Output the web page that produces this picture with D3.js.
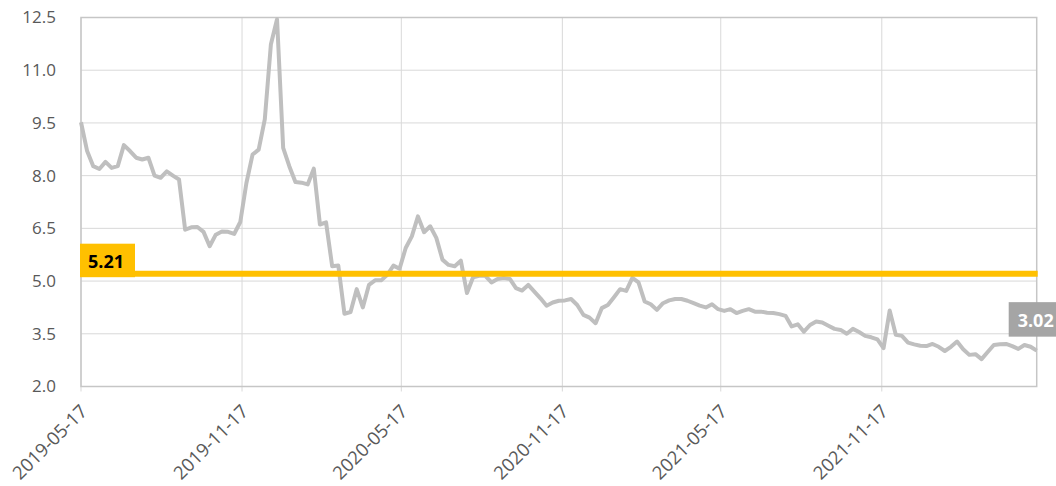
<!DOCTYPE html>
<html>
<head>
<meta charset="utf-8">
<script src="https://cdn.jsdelivr.net/npm/d3@7"></script>
<style>
  body { margin: 0; background: #fff; }
  svg { display: block; }
</style>
</head>
<body>
<svg id="chart" width="1056" height="486"></svg>
<script>
// weekly readings, first week 2019-05-17
const startDate = "2019-05-17";
const values = [
  9.52, 8.70, 8.27, 8.19, 8.39, 8.22, 8.27, 8.87, 8.70, 8.51, 8.46, 8.51, 8.00, 7.94,
  8.12, 8.00, 7.89, 6.46, 6.53, 6.54, 6.40, 5.99, 6.32, 6.41, 6.40, 6.34, 6.68,
  7.79, 8.60, 8.74, 9.60, 11.74, 12.45, 8.79, 8.27, 7.82, 7.80, 7.75, 8.20, 6.61,
  6.67, 5.42, 5.44, 4.07, 4.12, 4.77, 4.25, 4.89, 5.02, 5.02, 5.18, 5.44, 5.35,
  5.94, 6.27, 6.84, 6.39, 6.56, 6.23, 5.61, 5.46, 5.42, 5.58, 4.66, 5.11, 5.15,
  5.15, 4.96, 5.06, 5.09, 5.06, 4.80, 4.73, 4.89, 4.70, 4.51, 4.30, 4.39, 4.44,
  4.45, 4.49, 4.32, 4.04, 3.96, 3.80, 4.23, 4.32, 4.54, 4.77, 4.72, 5.09, 4.96,
  4.42, 4.34, 4.18, 4.37, 4.45, 4.49, 4.49, 4.44, 4.37, 4.30, 4.25, 4.34, 4.20,
  4.15, 4.20, 4.09, 4.15, 4.20, 4.13, 4.13, 4.10, 4.09, 4.06, 4.01, 3.71, 3.77,
  3.56, 3.75, 3.85, 3.82, 3.73, 3.64, 3.61, 3.50, 3.64, 3.55, 3.44, 3.40, 3.34,
  3.09, 4.16, 3.47, 3.44, 3.25, 3.20, 3.16, 3.15, 3.21, 3.13, 3.01, 3.13, 3.28,
  3.06, 2.90, 2.92, 2.78, 2.98, 3.18, 3.20, 3.21, 3.15, 3.07, 3.18, 3.13, 3.02
];
const yTicks = [2.0, 3.5, 5.0, 6.5, 8.0, 9.5, 11.0, 12.5];
const xTickLabels = ["2019-05-17", "2019-11-17", "2020-05-17", "2020-11-17", "2021-05-17", "2021-11-17"];
const average = 5.21;

const parse = d3.timeParse("%Y-%m-%d");
const t0 = parse(startDate);
const data = values.map((v, i) => ({ date: d3.timeDay.offset(t0, 7 * i), value: v }));
const xTicks = xTickLabels.map(parse);

const margin = { top: 17.5, right: 19.3, bottom: 99.5, left: 81 };
const width = 1056, height = 486;

const svg = d3.select("#chart");

const x = d3.scaleTime()
  .domain([t0, data[data.length - 1].date])
  .range([margin.left, width - margin.right]);

const y = d3.scaleLinear()
  .domain([2, 12.5])
  .range([height - margin.bottom, margin.top]);

const font = "'Open Sans', 'Noto Sans', sans-serif";

// horizontal grid
svg.append("g")
  .selectAll("line").data(yTicks).join("line")
  .attr("x1", margin.left).attr("x2", width - margin.right)
  .attr("y1", d => y(d)).attr("y2", d => y(d))
  .attr("stroke", "#d9d9d9").attr("stroke-width", 1);

// vertical grid, running a little below the axis as tick marks
svg.append("g")
  .selectAll("line").data(xTicks).join("line")
  .attr("x1", d => x(d)).attr("x2", d => x(d))
  .attr("y1", margin.top).attr("y2", height - margin.bottom + 5)
  .attr("stroke", "#d9d9d9").attr("stroke-width", 1);

// plot frame
svg.append("rect")
  .attr("x", margin.left).attr("y", margin.top)
  .attr("width", width - margin.left - margin.right)
  .attr("height", height - margin.top - margin.bottom)
  .attr("fill", "none")
  .attr("stroke", "#c6c6c6").attr("stroke-width", 1.5);

// y labels
const yAxis = svg.append("g")
  .attr("transform", `translate(${margin.left},0)`)
  .call(d3.axisLeft(y).tickValues(yTicks).tickFormat(d3.format(".1f")).tickSize(0).tickPadding(25));
yAxis.select(".domain").remove();
yAxis.selectAll("text")
  .attr("fill", "#595959")
  .style("font-family", font)
  .style("font-size", "17px");

// x labels, rotated
const xAxis = svg.append("g")
  .attr("transform", `translate(0,${height - margin.bottom})`)
  .call(d3.axisBottom(x).tickValues(xTicks).tickFormat(d3.timeFormat("%Y-%m-%d")).tickSize(0));
xAxis.select(".domain").remove();
xAxis.selectAll("text")
  .attr("fill", "#595959")
  .style("font-family", font)
  .style("font-size", "18.5px")
  .attr("text-anchor", "end")
  .attr("dy", null)
  .attr("y", 0)
  .attr("transform", "translate(7,26) rotate(-45)");

// series line
svg.append("path")
  .datum(data)
  .attr("fill", "none")
  .attr("stroke", "#bfbfbf")
  .attr("stroke-width", 4)
  .attr("stroke-linejoin", "round")
  .attr("d", d3.line().x(d => x(d.date)).y(d => y(d.value)));

// average line
svg.append("line")
  .attr("x1", margin.left).attr("x2", width - margin.right + 1)
  .attr("y1", y(average)).attr("y2", y(average))
  .attr("stroke", "#ffc000").attr("stroke-width", 6);

// average label
const avgY = y(average);
svg.append("rect")
  .attr("x", margin.left - 1).attr("y", avgY - 30)
  .attr("width", 55).attr("height", 33.5)
  .attr("fill", "#ffc000");
svg.append("text")
  .attr("x", margin.left + 7).attr("y", avgY - 6)
  .attr("fill", "#000")
  .style("font-family", font)
  .style("font-size", "18px")
  .style("font-weight", "bold")
  .text(d3.format(".2f")(average));

// last value label
const last = data[data.length - 1];
const lastX = x(last.date), lastY = y(last.value);
svg.append("rect")
  .attr("x", lastX - 28).attr("y", lastY - 48.5)
  .attr("width", 60).attr("height", 34.5)
  .attr("fill", "#a5a5a5");
svg.append("text")
  .attr("x", lastX - 19).attr("y", lastY - 24)
  .attr("fill", "#fff")
  .style("font-family", font)
  .style("font-size", "18px")
  .style("font-weight", "bold")
  .text(d3.format(".2f")(last.value));
</script>
</body>
</html>
